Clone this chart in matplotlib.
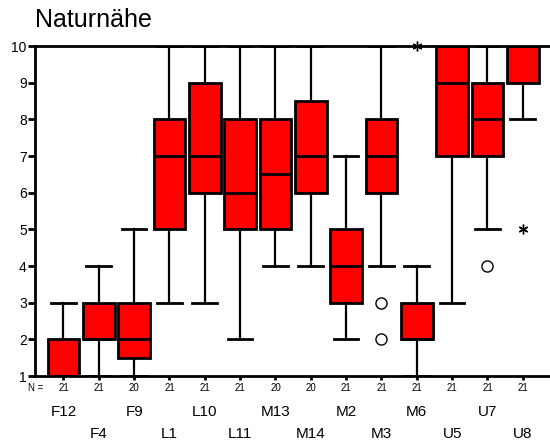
import matplotlib.pyplot as plt

plt.rcParams['font.family'] = ['Liberation Sans', 'DejaVu Sans']

groups = ['F12', 'F4', 'F9', 'L1', 'L10', 'L11', 'M13', 'M14', 'M2', 'M3', 'M6', 'U5', 'U7', 'U8']
n_counts = [21, 21, 20, 21, 21, 21, 20, 20, 21, 21, 21, 21, 21, 21]
whis_lo = [1, 1, 1, 3, 3, 2, 4, 4, 2, 4, 1, 3, 5, 8]
q1 = [1, 2, 1.5, 5, 6, 5, 5, 6, 3, 6, 2, 7, 7, 9]
medians = [1, 2, 2, 7, 7, 6, 6.5, 7, 4, 7, 2, 9, 8, 10]
q3 = [2, 3, 3, 8, 9, 8, 8, 8.5, 5, 8, 3, 10, 9, 10]
whis_hi = [3, 4, 5, 10, 10, 10, 10, 10, 7, 10, 4, 10, 10, 10]

# outliers (circles) and extremes (asterisks): (group position, value)
outliers = [(10, 3), (10, 2), (13, 4)]
extremes = [(11, 10), (14, 5)]

stats = []
for i, g in enumerate(groups):
    stats.append({'label': g, 'whislo': whis_lo[i], 'q1': q1[i], 'med': medians[i],
                  'q3': q3[i], 'whishi': whis_hi[i], 'fliers': []})

fig = plt.figure(figsize=(5.5, 4.43), dpi=100)
ax = fig.add_axes([0.064, 0.151, 0.936, 0.745])

positions = list(range(1, len(groups) + 1))
ax.bxp(stats, positions=positions, widths=0.9, capwidths=0.7, patch_artist=True,
       showfliers=False,
       boxprops=dict(facecolor='#ff0000', edgecolor='black', linewidth=2),
       medianprops=dict(color='black', linewidth=2),
       whiskerprops=dict(color='black', linewidth=1.6),
       capprops=dict(color='black', linewidth=2))

ax.plot([p for p, v in outliers], [v for p, v in outliers], 'o', ms=8,
        mfc='white', mec='black', mew=1.0, clip_on=False)
ax.plot([p for p, v in extremes], [v for p, v in extremes], marker=(6, 2, 0),
        ls='none', ms=7, color='black', mew=1.0, clip_on=False)

ax.set_xlim(0.2, 14.77)
ax.set_ylim(1, 10)
ax.set_yticks(range(1, 11))
ax.set_xticks(positions)
ax.set_xticklabels([])
ax.tick_params(axis='y', direction='out', length=5, width=2, labelsize=10, pad=1)
ax.tick_params(axis='x', direction='out', length=3, width=2)
ax.spines['right'].set_visible(False)
for s in ['left', 'bottom', 'top']:
    ax.spines[s].set_linewidth(2)

trans = ax.get_xaxis_transform()
ax.text(0.0, -0.037, 'N =', transform=ax.transAxes, fontsize=7, ha='center', va='center')
for i, g in enumerate(groups):
    p = positions[i]
    ax.text(p, -0.037, str(n_counts[i]), transform=trans, fontsize=7, ha='center', va='center')
    y = -0.11 if i % 2 == 0 else -0.175
    ax.text(p, y, g, transform=trans, fontsize=11, ha='center', va='center')

fig.text(0.064, 0.955, 'Naturnähe', fontsize=18, ha='left', va='center')

fig.savefig('out.png', dpi=100)
